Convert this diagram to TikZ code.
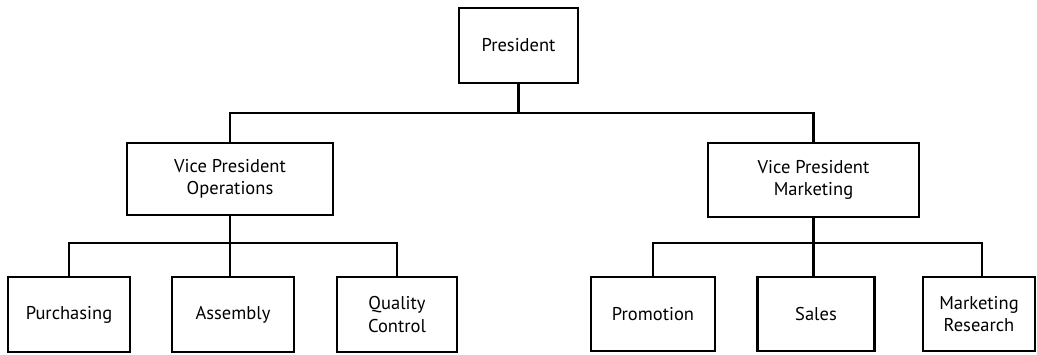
\documentclass[tikz,border=0pt]{standalone}
\usepackage{fontspec}
\setmainfont{PT Sans}
\begin{document}
\begin{tikzpicture}[x=1pt,y=-1pt,
  unit/.style={draw, line width=2.4pt, align=center, inner sep=0pt,
    font=\fontsize{18.5}{22.5}\selectfont},
  link/.style={line width=2.8pt}]
\useasboundingbox (0,0) rectangle (1037,354);
% boxes
\node[unit, minimum width=119, minimum height=75] (pres) at (518.5,45.5) {President};
\node[unit, minimum width=206, minimum height=72] (vpo) at (230,179) {Vice President\\Operations};
\node[unit, minimum width=211, minimum height=74] (vpm) at (813.5,180) {Vice President\\Marketing};
\node[unit, minimum width=122, minimum height=75] (pur) at (69,314.5) {Purchasing};
\node[unit, minimum width=122, minimum height=75] (asm) at (233,314.5) {Assembly};
\node[unit, minimum width=120, minimum height=75] (qc) at (397,314.5) {Quality\\Control};
\node[unit, minimum width=124, minimum height=74] (pro) at (653,314) {Promotion};
\node[unit, minimum width=117, minimum height=74] (sal) at (816,314) {Sales};
\node[unit, minimum width=112, minimum height=74] (mr) at (979,314) {Marketing\\Research};
% bus levels
\coordinate (top) at (0,113);
\coordinate (low) at (0,243);
% president to vice presidents
\draw[link] (pres.south) -- (pres.south |- top);
\draw[link] (vpo.north) |- (pres.south |- top) -| (vpm.north);
% operations departments
\draw[link] (vpo.south) -- (vpo.south |- asm.north);
\draw[link] (pur.north) |- (vpo.south |- low) -| (qc.north);
% marketing departments
\draw[link] (vpm.south) -- (vpm.south |- sal.north);
\draw[link] (pro.north) |- (vpm.south |- low) -| ([xshift=3]mr.north);
\end{tikzpicture}
\end{document}
